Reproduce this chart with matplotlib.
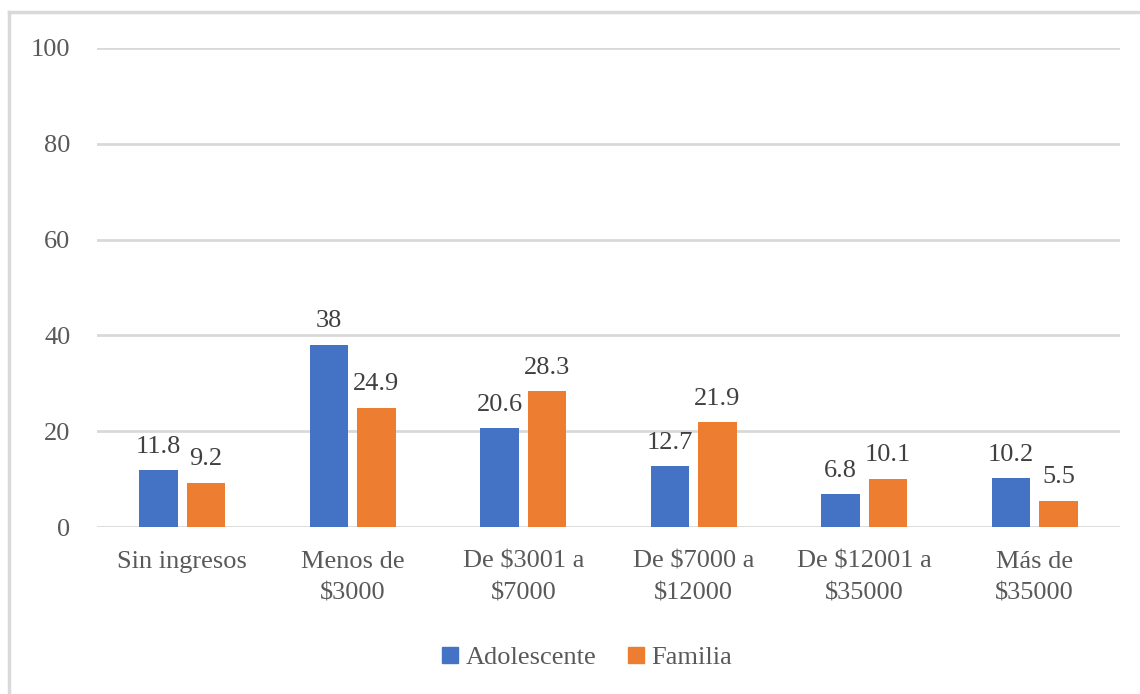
import matplotlib
matplotlib.use("Agg")
import matplotlib.pyplot as plt
from matplotlib.lines import Line2D
from matplotlib.patches import Patch
import numpy as np

categories = ["Sin ingresos", "Menos de\n$3000", "De $3001 a\n$7000",
              "De $7000 a\n$12000", "De $12001 a\n$35000", "Más de\n$35000"]
adolescente = [11.8, 38, 20.6, 12.7, 6.8, 10.2]
familia = [9.2, 24.9, 28.3, 21.9, 10.1, 5.5]
series_names = ["Adolescente", "Familia"]
yticks = [0, 20, 40, 60, 80, 100]

BLUE = "#4472C4"
ORANGE = "#ED7D31"
TEXT = "#595959"
GRID = "#D9D9D9"

plt.rcParams["font.family"] = ["Liberation Serif", "DejaVu Serif"]

fig = plt.figure(figsize=(11.4, 6.94), dpi=100)
ax = fig.add_axes([97 / 1140, 1 - 527 / 694, (1120 - 97) / 1140, (527 - 48) / 694])

x = np.arange(len(categories))
w = 0.228
off = 0.139
b1 = ax.bar(x - off, adolescente, w, color=BLUE, zorder=3)
b2 = ax.bar(x + off, familia, w, color=ORANGE, zorder=3)

for bars, vals in ((b1, adolescente), (b2, familia)):
    for rect, v in zip(bars, vals):
        ax.annotate(f"{v:g}", (rect.get_x() + rect.get_width() / 2, v),
                    xytext=(0, 9), textcoords="offset points",
                    ha="center", va="bottom", fontsize=19, color="#404040")

ax.set_xlim(-0.5, len(categories) - 0.5)
ax.set_ylim(0, 100)
ax.set_yticks(yticks)
ax.set_xticks(x)
ax.set_xticklabels(categories, linespacing=1.6)
ax.tick_params(axis="y", length=0, pad=19, labelsize=19, labelcolor=TEXT)
ax.tick_params(axis="x", length=0, pad=17, labelsize=19, labelcolor=TEXT)
ax.yaxis.grid(True, color=GRID, linewidth=2, zorder=0)
for s in ax.spines.values():
    s.set_visible(False)

# chart frame (top and left edges)
fig.add_artist(Line2D([9 / 1140, 1.0], [1 - 12 / 694, 1 - 12 / 694],
                      color=GRID, linewidth=2.5, transform=fig.transFigure))
fig.add_artist(Line2D([9 / 1140, 9 / 1140], [0.0, 1 - 12 / 694],
                      color=GRID, linewidth=2.5, transform=fig.transFigure))

handles = [Patch(color=BLUE), Patch(color=ORANGE)]
fig.legend(handles, series_names, loc="center", bbox_to_anchor=(587 / 1140, 1 - 658 / 694),
           ncol=2, frameon=False, fontsize=19, labelcolor=TEXT,
           handlelength=0.6, handleheight=0.6, handletextpad=0.3, columnspacing=1.2)

fig.savefig("out.png", dpi=100, facecolor="white")
